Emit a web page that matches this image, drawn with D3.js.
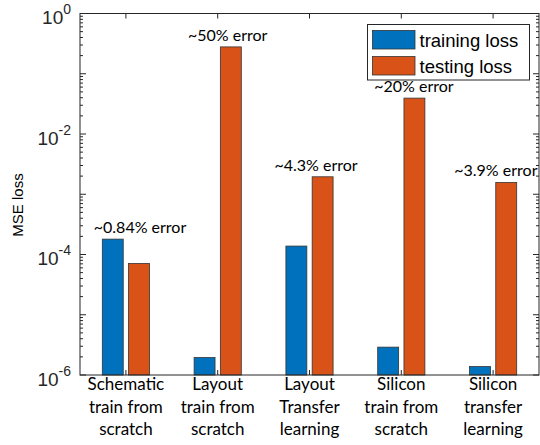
<!DOCTYPE html>
<html>
<head>
<meta charset="utf-8">
<script src="https://cdn.jsdelivr.net/npm/d3@7"></script>
<style>
  body { margin: 0; background: #fff; }
  svg { display: block; }
</style>
</head>
<body>
<svg id="chart" width="540" height="445"></svg>
<script>
// ---- data ----
const categories = [
  ["Schematic", "train from", "scratch"],
  ["Layout", "train from", "scratch"],
  ["Layout", "Transfer", "learning"],
  ["Silicon", "train from", "scratch"],
  ["Silicon", "transfer", "learning"]
];
const trainingLoss = [1.8e-4, 1.95e-6, 1.38e-4, 2.9e-6, 1.38e-6];
const testingLoss  = [7.1e-5, 0.279, 1.95e-3, 0.0394, 1.57e-3];
const seriesNames = ["training loss", "testing loss"];
const annotations = ["~0.84% error", "~50% error", "~4.3% error", "~20% error", "~3.9% error"];
// annotation x in category units (MATLAB text() data coords)
const annotationX = [1.154, 2.109, 3.071, 4.138, 5.03];
const yTickExps = [0, -2, -4, -6];

// ---- layout ----
const svg = d3.select("#chart");
const L = 80, R = 539, T = 13.5, B = 375;
const axisColor = "#262626";
const colors = ["#0072BD", "#D95319"];

const x = d3.scaleLinear().domain([0.5, categories.length + 0.5]).range([L, R]);
const y = d3.scaleLog().domain([1e-6, 1]).range([B, T]);

const barW = 0.228, off = 0.143;
const series = [trainingLoss, testingLoss];

// bars
series.forEach((vals, s) => {
  svg.append("g").selectAll("rect").data(vals).join("rect")
    .attr("x", (d, i) => x(i + 1 + (s === 0 ? -off : off)) - (x(barW) - x(0)) / 2)
    .attr("width", x(barW) - x(0))
    .attr("y", d => y(d))
    .attr("height", d => B - y(d))
    .attr("fill", colors[s])
    .attr("stroke", "#333")
    .attr("stroke-width", 0.8);
});

// annotations
svg.append("g").selectAll("text").data(annotations).join("text")
  .attr("x", (d, i) => x(annotationX[i]))
  .attr("y", (d, i) => y(Math.max(trainingLoss[i], testingLoss[i])) - 6)
  .attr("text-anchor", "middle")
  .attr("font-family", "Lato, 'Open Sans', sans-serif")
  .attr("font-size", 16)
  .attr("fill", "#000")
  .text(d => d);

// axes frame
const ax = svg.append("g").attr("stroke", axisColor).attr("stroke-width", 1).attr("fill", "none");
ax.append("rect").attr("x", L).attr("y", T).attr("width", R - L).attr("height", B - T);

// log ticks (major + minor) on left & right, inside
const minorVals = [];
for (let e = -6; e < 0; e++) for (let m = 2; m <= 9; m++) minorVals.push(m * Math.pow(10, e));
const majorVals = d3.range(-6, 1).map(e => Math.pow(10, e));
majorVals.forEach(v => {
  ax.append("line").attr("x1", L).attr("x2", L + 6).attr("y1", y(v)).attr("y2", y(v));
  ax.append("line").attr("x1", R).attr("x2", R - 6).attr("y1", y(v)).attr("y2", y(v));
});
minorVals.forEach(v => {
  ax.append("line").attr("x1", L).attr("x2", L + 3).attr("y1", y(v)).attr("y2", y(v));
  ax.append("line").attr("x1", R).attr("x2", R - 3).attr("y1", y(v)).attr("y2", y(v));
});
// category ticks top & bottom, inside
categories.forEach((c, i) => {
  const cx = x(i + 1);
  ax.append("line").attr("x1", cx).attr("x2", cx).attr("y1", B).attr("y2", B - 5);
  ax.append("line").attr("x1", cx).attr("x2", cx).attr("y1", T).attr("y2", T + 5);
});

// y tick labels 10^n
yTickExps.forEach(e => {
  const ty = y(Math.pow(10, e));
  const t = svg.append("text")
    .attr("x", L - 9).attr("y", ty + 10.5)
    .attr("text-anchor", "end")
    .attr("font-family", "'Liberation Sans', Arial, sans-serif")
    .attr("fill", "#262626");
  t.append("tspan").attr("font-size", 19).text("10");
  t.append("tspan").attr("font-size", 14).attr("dy", -10).text(String(e).replace("-", "-"));
});

// y axis label
svg.append("text")
  .attr("transform", `translate(23,${205}) rotate(-90)`)
  .attr("text-anchor", "middle")
  .attr("font-family", "'Liberation Sans', Arial, sans-serif")
  .attr("font-size", 15)
  .attr("fill", "#000")
  .text("MSE loss");

// category labels
categories.forEach((lines, i) => {
  const t = svg.append("text")
    .attr("text-anchor", "middle")
    .attr("font-family", "Lato, 'Open Sans', sans-serif")
    .attr("font-size", 17)
    .attr("fill", "#000");
  lines.forEach((ln, k) => {
    t.append("tspan").attr("x", x(i + 1)).attr("y", 390 + k * 22.5).text(ln);
  });
});

// legend
const lg = svg.append("g");
lg.append("rect").attr("x", 367.5).attr("y", 24.5).attr("width", 162).attr("height", 55.5)
  .attr("fill", "#fff").attr("stroke", axisColor).attr("stroke-width", 1);
seriesNames.forEach((name, s) => {
  const yy = 30.5 + s * 26;
  lg.append("rect").attr("x", 372.5).attr("y", yy).attr("width", 42.5).attr("height", 18.5)
    .attr("fill", colors[s]).attr("stroke", "#333").attr("stroke-width", 0.8);
  lg.append("text").attr("x", 419.5).attr("y", yy + 16.5)
    .attr("font-family", "'Liberation Sans', Arial, sans-serif")
    .attr("font-size", 18.5).attr("fill", "#000").text(name);
});
</script>
</body>
</html>
